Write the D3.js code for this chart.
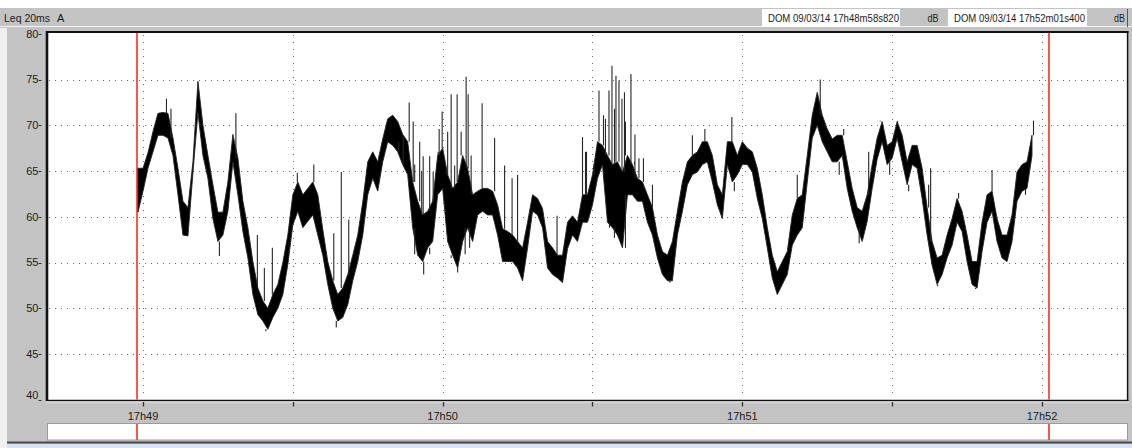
<!DOCTYPE html>
<html><head><meta charset="utf-8">
<script src="https://cdn.jsdelivr.net/npm/d3@7"></script>
<style>html,body{margin:0;padding:0;background:#fff;} svg{display:block;}</style>
</head><body><svg id="c" width="1132" height="448"></svg>
<script>
// ---------------- data ----------------
const seriesTitle = "Leq 20ms";
const weighting = "A";
const unitLabel = "dB";
// seconds relative to 17h49m00s
const cursorTimes = [-1.18, 181.4];
const cursorLabels = ["DOM 09/03/14 17h48m58s820", "DOM 09/03/14 17h52m01s400"];
const xTickSeconds = [0, 30, 60, 90, 120, 150, 180];
const xLabelSeconds = [0, 60, 120, 180];
const xLabelText = ["17h49", "17h50", "17h51", "17h52"];
const yTicks = [40, 45, 50, 55, 60, 65, 70, 75, 80];
const yGrid = [45, 50, 55, 60, 65, 70, 75];

// one sample per second, from -1 s to 178 s
const sampleSeconds = d3.range(-1, 179);
const levelHigh = [
 65.3, 65.3, 67.0, 69.3, 71.3, 71.4, 71.3, 68.6, 65.3, 61.7, 61.0,
 66.0, 74.8, 70.0, 66.7, 63.5, 60.5, 60.5, 63.8, 69.0, 66.4,
 61.7, 58.8, 55.1, 52.2, 50.8, 50.0, 51.5, 52.6, 55.0, 58.0,
 62.4, 63.8, 62.4, 63.1, 63.8, 62.4, 58.6, 55.1, 53.0, 51.5,
 52.2, 53.7, 55.8, 58.0, 61.6, 66.0, 67.1, 66.0, 68.5, 70.7,
 71.1, 70.4, 69.0, 68.2, 63.8, 61.7, 60.2, 60.6, 61.7, 66.7,
 67.5, 64.6, 63.1, 63.8, 66.7, 65.3, 62.4, 62.8, 63.1, 63.1,
 62.8, 61.3, 58.7, 58.4, 58.0, 57.3, 56.6, 59.4, 62.4, 62.0,
 60.9, 57.3, 56.6, 55.8, 55.8, 59.4, 60.1, 59.4, 62.4, 62.4,
 64.6, 68.2, 67.8, 66.7, 65.7, 66.0, 64.9, 66.7, 65.7, 64.2,
 63.8, 62.4, 61.0, 58.0, 56.2, 55.8, 57.3, 60.6, 63.8, 66.0,
 66.7, 67.1, 68.2, 68.2, 66.7, 63.5, 62.4, 68.2, 68.2, 66.7,
 68.2, 67.5, 67.1, 65.3, 62.4, 58.8, 55.8, 54.0, 55.1, 56.2,
 60.2, 62.0, 62.4, 66.7, 71.1, 73.6, 71.1, 69.6, 68.5, 68.9,
 68.9, 66.0, 63.1, 61.0, 60.6, 62.4, 65.7, 68.6, 70.4, 67.8,
 68.2, 70.4, 68.9, 66.0, 67.8, 67.8, 65.3, 61.0, 57.3, 55.5,
 55.8, 58.0, 59.8, 62.0, 60.6, 58.0, 55.1, 55.1, 59.4, 62.4,
 62.8, 59.8, 58.0, 58.0, 60.2, 64.9, 65.7, 66.0, 68.9
];
const levelLow = [
 60.5, 62.8, 65.3, 67.1, 68.9, 68.9, 68.6, 66.7, 62.4, 58.0, 57.9,
 64.8, 71.4, 66.7, 64.2, 59.8, 57.3, 58.0, 60.6, 66.0, 62.4,
 58.4, 55.5, 51.5, 49.3, 48.6, 47.7, 49.0, 50.0, 51.5, 54.8,
 59.1, 60.6, 58.8, 59.5, 60.2, 58.0, 55.8, 52.6, 50.0, 48.6,
 49.0, 50.4, 53.0, 55.1, 58.0, 62.4, 64.2, 62.8, 66.0, 68.2,
 67.8, 67.1, 65.7, 64.6, 58.8, 55.8, 55.1, 56.6, 57.3, 62.4,
 63.1, 57.3, 55.8, 54.4, 57.3, 58.8, 57.3, 60.2, 60.6, 60.2,
 60.2, 58.0, 55.1, 55.1, 55.1, 54.4, 53.0, 56.6, 60.6, 60.2,
 58.8, 54.4, 53.7, 53.3, 52.8, 56.5, 58.0, 57.3, 59.4, 59.4,
 61.3, 64.2, 65.7, 59.4, 58.8, 58.0, 56.6, 62.4, 62.4, 61.7,
 61.7, 59.4, 58.0, 55.5, 53.7, 53.0, 53.0, 58.0, 60.6, 63.5,
 64.6, 64.9, 65.7, 66.0, 63.8, 61.3, 59.8, 65.7, 63.8, 64.6,
 65.7, 65.7, 64.9, 62.0, 59.8, 56.6, 53.3, 51.5, 52.6, 53.7,
 56.9, 58.0, 58.8, 63.8, 68.6, 70.0, 68.2, 67.1, 66.0, 66.0,
 66.7, 63.1, 60.6, 58.8, 57.3, 59.5, 63.1, 66.3, 68.2, 65.7,
 66.4, 68.6, 66.0, 63.5, 65.7, 65.3, 62.0, 58.0, 54.7, 52.6,
 53.7, 55.5, 56.9, 59.4, 58.4, 55.1, 52.6, 52.2, 56.2, 59.4,
 60.6, 57.3, 55.5, 55.1, 57.3, 61.7, 62.8, 63.1, 66.7
];
// isolated short peaks / dips of the 20 ms trace
const spikeSeconds = [4.7, 5.6, 15.3, 18.6, 22.9, 24.3, 24.6, 25.9, 30.9, 34.2,
 38.2, 38.7, 39.7, 41.2, 51.2, 52.1, 53.3, 54.1, 54.4, 54.4, 55.4, 55.8, 56.1, 56.2, 57.4, 57.4, 58.1, 59.1, 59.3, 59.9,
 60.7, 61.0, 61.7, 61.7, 62.4, 62.9, 63.0, 63.7, 64.5, 64.7, 65.1, 65.4, 65.7, 67.9, 70.4,
 72.4, 73.9, 75.0, 75.9, 82.9, 84.1, 88.0, 88.6, 88.8, 90.3, 91.3, 92.2, 92.6, 93.3, 93.4, 93.9, 94.4, 94.4, 94.7,
 95.1, 95.3, 95.9, 96.1, 96.4, 96.6, 96.6, 97.7, 98.4, 98.5, 99.3, 100.2, 102.0, 105.5,
 110.0, 112.5, 116.1, 117.9, 118.4, 131.0, 135.6, 139.4, 140.3, 143.4, 145.3,
 147.6, 149.5, 151.1, 153.3, 157.3, 157.7, 159.1, 163.3, 166.7, 170.0, 176.7, 178.3];
const spikeLevels = [72.9, 71.8, 55.7, 71.3, 58.0, 54.4, 47.5, 56.6, 64.8, 65.7,
 58.2, 47.9, 64.9, 59.7, 68.2, 68.7, 72.5, 70.4, 65.7, 55.9, 68.2, 65.0, 66.6, 53.7, 66.6, 55.9, 64.9, 67.1, 69.6, 71.5,
 65.0, 69.3, 73.4, 55.5, 65.6, 73.4, 53.9, 69.3, 55.9, 75.3, 73.4, 56.6, 66.7, 72.4, 68.6,
 65.6, 64.2, 64.6, 53.0, 60.1, 52.8, 68.7, 67.1, 67.1, 65.7, 73.8, 71.1, 70.7, 73.8, 58.8, 76.5, 57.7, 71.8, 75.4,
 58.0, 74.9, 72.9, 56.6, 73.6, 56.6, 70.4, 75.6, 66.0, 69.0, 66.4, 66.4, 63.5, 52.8,
 68.9, 69.6, 59.8, 70.9, 62.8, 64.6, 75.0, 64.6, 69.6, 57.1, 67.1,
 70.5, 64.6, 70.5, 62.8, 63.5, 65.3, 52.4, 62.6, 52.1, 65.1, 62.4, 70.5];

// ---------------- drawing ----------------
const W = 1132, H = 448;
const svg = d3.select("#c");
const FONT = "'Liberation Sans', Arial, sans-serif";
const GRAY = "#c3c3c3";
const RED = "#f25a5a";

const x = d3.scaleLinear().domain([-19.22, 197.22]).range([47, 1128]);
const y = d3.scaleLinear().domain([40, 80]).range([399.75, 33.75]);
// cursor lines snapped to a 2-px pixel pair so the thin red survives capture
const cursorX = t => Math.floor(x(t) / 2) * 2 + 1;

// window background
svg.append("rect").attr("x", 0).attr("y", 0).attr("width", W).attr("height", H).attr("fill", "#ffffff");
svg.append("rect").attr("x", 0).attr("y", 8).attr("width", W).attr("height", 20).attr("fill", GRAY);
svg.append("rect").attr("x", 7).attr("y", 28).attr("width", W - 7).attr("height", 416).attr("fill", GRAY);
svg.append("rect").attr("x", 0).attr("y", 28).attr("width", 7).attr("height", 420).attr("fill", "#f0f0f0");
svg.append("line").attr("x1", 0).attr("x2", W).attr("y1", 26.5).attr("y2", 26.5).attr("stroke", "#f4f4f4");
svg.append("line").attr("x1", 7).attr("x2", W).attr("y1", 442.5).attr("y2", 442.5).attr("stroke", "#4a4a4a").attr("stroke-width", 2);
svg.append("rect").attr("x", 7).attr("y", 444).attr("width", W - 7).attr("height", 4).attr("fill", "#d6e3f2");

// header
svg.append("text").attr("x", 4).attr("y", 21.5).attr("font-family", FONT).attr("font-size", 11)
  .attr("fill", "#1b1b1b").attr("textLength", 46).attr("lengthAdjust", "spacingAndGlyphs").text(seriesTitle);
svg.append("text").attr("x", 57).attr("y", 21.5).attr("font-family", FONT).attr("font-size", 11)
  .attr("fill", "#1b1b1b").text(weighting);

const boxX = [762, 948];
const boxW = [138, 139];
const dbX = [927.5, 1114];
cursorLabels.forEach((lab, i) => {
  svg.append("rect").attr("x", boxX[i]).attr("y", 9).attr("width", boxW[i]).attr("height", 18).attr("fill", "#ffffff");
  svg.append("text").attr("x", boxX[i] + 6).attr("y", 21.5).attr("font-family", FONT).attr("font-size", 11.5)
    .attr("fill", "#1b1b1b").attr("textLength", 131).attr("lengthAdjust", "spacingAndGlyphs").text(lab);
  svg.append("text").attr("x", dbX[i]).attr("y", 21.5).attr("font-family", FONT).attr("font-size", 11)
    .attr("fill", "#1b1b1b").attr("textLength", 11).attr("lengthAdjust", "spacingAndGlyphs").text(unitLabel);
});
svg.append("line").attr("x1", 1127.5).attr("x2", 1127.5).attr("y1", 9).attr("y2", 27).attr("stroke", "#555");

// plot area
svg.append("rect").attr("x", 47).attr("y", 32).attr("width", 1081).attr("height", 368).attr("fill", "#ffffff");

// dotted grid
svg.append("g").selectAll("line").data(yGrid).join("line")
  .attr("x1", 49).attr("x2", 1126)
  .attr("y1", d => Math.round(y(d)) + 0.5).attr("y2", d => Math.round(y(d)) + 0.5)
  .attr("stroke", "#6e6e6e").attr("stroke-dasharray", "1,5");
svg.append("g").selectAll("line").data(xTickSeconds).join("line")
  .attr("x1", d => Math.round(x(d)) + 0.5).attr("x2", d => Math.round(x(d)) + 0.5)
  .attr("y1", 35).attr("y2", 399)
  .attr("stroke", "#6e6e6e").attr("stroke-dasharray", "1,6");

// cursors (in plot)
cursorTimes.forEach(t => {
  const cx = cursorX(t);
  svg.append("line").attr("x1", cx).attr("x2", cx).attr("y1", 33).attr("y2", 399.5)
    .attr("stroke", RED).attr("stroke-width", 2);
});

// data trace
const samples = sampleSeconds.map((s, i) => ({s, hi: levelHigh[i], lo: levelLow[i]}));
const area = d3.area().x(d => x(d.s)).y0(d => y(d.lo)).y1(d => y(d.hi));
svg.append("path").datum(samples).attr("d", area)
  .attr("fill", "#000").attr("stroke", "#222").attr("stroke-width", 0.9).attr("stroke-linejoin", "miter");

const spikeG = svg.append("g");
spikeSeconds.forEach((s, i) => {
  const idx = Math.max(0, Math.min(samples.length - 1, Math.round(s) + 1));
  const base = spikeLevels[i] >= samples[idx].hi ? samples[idx].hi : samples[idx].lo;
  const sx = x(s);
  spikeG.append("line").attr("x1", sx).attr("x2", sx).attr("y1", y(base)).attr("y2", y(spikeLevels[i]))
    .attr("stroke", "#262626").attr("stroke-width", 1.1);
});

// plot borders
svg.append("line").attr("x1", 46).attr("x2", 1128.5).attr("y1", 32).attr("y2", 32).attr("stroke", "#111").attr("stroke-width", 2);
svg.append("line").attr("x1", 47).attr("x2", 47).attr("y1", 31).attr("y2", 401).attr("stroke", "#111").attr("stroke-width", 2.6);
svg.append("line").attr("x1", 46).attr("x2", 1128.5).attr("y1", 400.5).attr("y2", 400.5).attr("stroke", "#111").attr("stroke-width", 1.5);
svg.append("line").attr("x1", 1127.6).attr("x2", 1127.6).attr("y1", 31).attr("y2", 401).attr("stroke", "#111").attr("stroke-width", 1.5);
svg.append("line").attr("x1", 46).attr("x2", 1129).attr("y1", 402).attr("y2", 402).attr("stroke", "#f2f2f2").attr("stroke-width", 1);

// y axis
svg.append("g").selectAll("line").data(yTicks).join("line")
  .attr("x1", 38.5).attr("x2", 41.5)
  .attr("y1", d => Math.round(y(d)) + 0.5).attr("y2", d => Math.round(y(d)) + 0.5)
  .attr("stroke", "#333");
svg.append("g").selectAll("text").data(yTicks).join("text")
  .attr("x", 38.5).attr("y", d => d === 40 ? y(d) - 5 : y(d)).attr("dy", "0.35em")
  .attr("text-anchor", "end").attr("font-family", FONT).attr("font-size", 11).attr("fill", "#1b1b1b")
  .text(d => d);

// x axis
svg.append("g").selectAll("line").data(xTickSeconds).join("line")
  .attr("x1", d => Math.round(x(d)) + 0.5).attr("x2", d => Math.round(x(d)) + 0.5)
  .attr("y1", 402).attr("y2", 406.5).attr("stroke", "#333").attr("stroke-width", 1.3);
svg.append("g").selectAll("text").data(xLabelSeconds).join("text")
  .attr("x", d => x(d)).attr("y", 419.5).attr("text-anchor", "middle")
  .attr("font-family", FONT).attr("font-size", 11).attr("fill", "#1b1b1b")
  .text((d, i) => xLabelText[i]);

// overview strip at the bottom
svg.append("rect").attr("x", 47.5).attr("y", 423.5).attr("width", 1080).attr("height", 16.5)
  .attr("fill", "#ffffff").attr("stroke", "#9a9a9a").attr("stroke-width", 1);
cursorTimes.forEach(t => {
  const cx = cursorX(t);
  svg.append("line").attr("x1", cx).attr("x2", cx).attr("y1", 424).attr("y2", 440)
    .attr("stroke", RED).attr("stroke-width", 2);
});
</script>
</body></html>
